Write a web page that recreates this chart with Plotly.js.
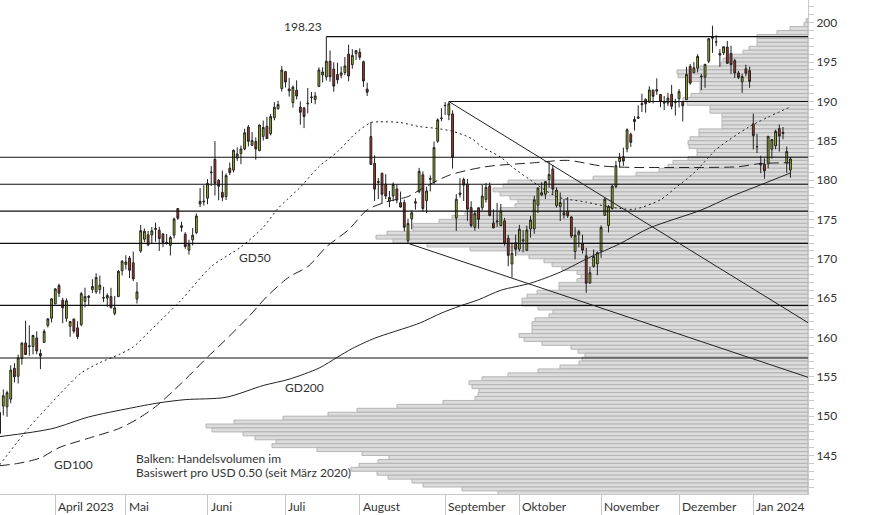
<!DOCTYPE html>
<html><head><meta charset="utf-8">
<script src="https://cdn.plot.ly/plotly-3.0.1.min.js"></script>
<style>html,body{margin:0;padding:0;background:#fff}#chart{width:874px;height:515px}</style>
</head><body><div id="chart"></div>
<script>
// ---- trading days (category axis) ----
const dates = [
'2023-03-13','2023-03-14','2023-03-15','2023-03-16','2023-03-17','2023-03-20','2023-03-21','2023-03-22','2023-03-23','2023-03-24','2023-03-27','2023-03-28','2023-03-29','2023-03-30','2023-03-31',
'2023-04-03','2023-04-04','2023-04-05','2023-04-06','2023-04-10','2023-04-11','2023-04-12','2023-04-13','2023-04-14','2023-04-17','2023-04-18','2023-04-19','2023-04-20','2023-04-21','2023-04-24','2023-04-25','2023-04-26','2023-04-27','2023-04-28',
'2023-05-01','2023-05-02','2023-05-03','2023-05-04','2023-05-05','2023-05-08','2023-05-09','2023-05-10','2023-05-11','2023-05-12','2023-05-15','2023-05-16','2023-05-17','2023-05-18','2023-05-19','2023-05-22','2023-05-23','2023-05-24','2023-05-25','2023-05-26','2023-05-30','2023-05-31',
'2023-06-01','2023-06-02','2023-06-05','2023-06-06','2023-06-07','2023-06-08','2023-06-09','2023-06-12','2023-06-13','2023-06-14','2023-06-15','2023-06-16','2023-06-20','2023-06-21','2023-06-22','2023-06-23','2023-06-26','2023-06-27','2023-06-28','2023-06-29','2023-06-30',
'2023-07-03','2023-07-05','2023-07-06','2023-07-07','2023-07-10','2023-07-11','2023-07-12','2023-07-13','2023-07-14','2023-07-17','2023-07-18','2023-07-19','2023-07-20','2023-07-21','2023-07-24','2023-07-25','2023-07-26','2023-07-27','2023-07-28','2023-07-31',
'2023-08-01','2023-08-02','2023-08-03','2023-08-04','2023-08-07','2023-08-08','2023-08-09','2023-08-10','2023-08-11','2023-08-14','2023-08-15','2023-08-16','2023-08-17','2023-08-18','2023-08-21','2023-08-22','2023-08-23','2023-08-24','2023-08-25','2023-08-28','2023-08-29','2023-08-30','2023-08-31',
'2023-09-01','2023-09-05','2023-09-06','2023-09-07','2023-09-08','2023-09-11','2023-09-12','2023-09-13','2023-09-14','2023-09-15','2023-09-18','2023-09-19','2023-09-20','2023-09-21','2023-09-22','2023-09-25','2023-09-26','2023-09-27','2023-09-28','2023-09-29',
'2023-10-02','2023-10-03','2023-10-04','2023-10-05','2023-10-06','2023-10-09','2023-10-10','2023-10-11','2023-10-12','2023-10-13','2023-10-16','2023-10-17','2023-10-18','2023-10-19','2023-10-20','2023-10-23','2023-10-24','2023-10-25','2023-10-26','2023-10-27','2023-10-30','2023-10-31',
'2023-11-01','2023-11-02','2023-11-03','2023-11-06','2023-11-07','2023-11-08','2023-11-09','2023-11-10','2023-11-13','2023-11-14','2023-11-15','2023-11-16','2023-11-17','2023-11-20','2023-11-21','2023-11-22','2023-11-24','2023-11-27','2023-11-28','2023-11-29','2023-11-30',
'2023-12-01','2023-12-04','2023-12-05','2023-12-06','2023-12-07','2023-12-08','2023-12-11','2023-12-12','2023-12-13','2023-12-14','2023-12-15','2023-12-18','2023-12-19','2023-12-20','2023-12-21','2023-12-22','2023-12-26','2023-12-27','2023-12-28','2023-12-29',
'2024-01-02','2024-01-03','2024-01-04','2024-01-05','2024-01-08','2024-01-09','2024-01-10','2024-01-11','2024-01-12','2024-01-16','2024-01-17'];

const open = [
147.81,151.28,151.19,152.16,156.08,155.07,157.32,159.30,158.83,158.86,159.94,157.97,159.37,161.53,162.44,
164.27,166.60,164.74,162.43,161.42,162.35,161.22,161.63,164.59,165.09,166.10,165.80,166.09,165.05,165.00,165.19,163.06,165.19,168.49,
169.28,170.09,169.50,164.89,170.98,172.48,173.05,173.02,173.85,173.62,173.16,171.99,171.71,173.00,176.39,173.98,173.13,171.09,172.41,173.32,176.96,177.33,
177.70,181.03,182.63,179.97,178.44,177.90,181.50,181.27,182.80,183.37,183.96,186.73,184.41,184.90,183.74,185.55,186.83,185.89,187.93,189.08,191.63,
193.78,191.57,189.84,191.41,189.26,189.16,189.68,190.50,190.23,191.90,193.35,193.10,195.09,194.10,193.41,193.33,193.67,196.02,194.67,196.06,
196.24,195.04,191.57,185.52,182.13,179.69,180.87,179.48,177.32,177.97,178.88,177.13,177.14,172.30,175.07,177.06,178.52,180.67,177.38,180.09,179.70,184.94,187.84,
189.49,188.28,188.40,175.18,178.35,180.07,179.49,176.51,174.00,176.48,176.48,177.52,179.26,174.55,174.67,174.20,174.82,172.62,169.34,172.02,
171.22,172.26,171.09,173.79,173.80,176.81,178.10,178.20,180.07,181.42,176.75,176.65,175.58,176.04,175.31,170.91,173.05,171.88,170.37,166.91,169.02,169.35,
171.00,175.52,174.24,176.38,179.18,182.35,182.96,183.97,185.82,187.70,187.85,189.57,190.25,189.89,191.41,191.49,190.87,189.92,189.78,190.90,189.84,
190.33,189.98,190.21,194.45,193.63,194.20,193.11,193.08,195.09,198.02,197.53,196.09,196.16,196.90,196.10,195.18,193.61,192.49,194.14,193.90,
187.15,184.22,182.15,181.99,182.09,183.92,184.35,186.54,186.06,182.16,181.27];
const high = [
153.14,153.40,153.25,156.46,156.74,157.82,159.40,162.14,161.55,160.34,160.77,158.49,161.05,162.47,165.00,
166.29,166.84,165.05,164.96,162.03,162.36,162.06,165.80,166.32,165.39,167.41,168.16,167.87,166.45,165.60,166.31,165.28,168.56,169.85,
170.45,170.35,170.92,167.04,174.30,173.85,173.54,174.03,174.59,174.06,173.21,173.14,172.93,175.24,176.39,174.71,173.38,172.42,173.90,175.77,178.99,179.35,
180.12,181.78,184.95,180.12,181.21,180.84,182.23,183.89,184.15,184.39,186.52,186.99,186.10,185.41,187.05,187.56,188.05,188.39,189.90,190.07,194.48,
193.88,192.98,192.02,192.67,189.99,189.30,191.70,191.19,191.18,194.32,194.33,198.23,196.47,194.97,194.91,194.44,195.64,197.20,196.63,196.49,
196.73,195.18,192.37,187.38,183.13,180.27,180.93,180.75,178.62,179.69,179.48,178.54,177.51,175.10,176.13,177.68,181.55,181.10,179.15,180.59,184.90,187.85,189.12,
189.92,189.98,188.85,178.21,180.24,180.30,180.13,177.30,176.10,176.50,179.38,179.63,179.70,176.30,177.08,176.97,175.20,173.04,172.03,173.07,
174.30,173.63,174.21,175.45,177.99,179.05,179.72,179.85,182.34,181.93,179.08,178.42,177.58,177.84,175.42,174.01,173.67,173.06,171.38,168.96,171.17,170.90,
174.23,177.78,176.82,179.43,182.44,183.45,184.12,186.57,186.03,188.11,189.50,190.96,190.38,191.91,191.52,192.93,190.90,190.67,191.08,192.09,190.32,
191.56,190.05,194.40,194.76,195.00,195.99,193.49,194.72,198.00,199.62,198.40,196.63,196.95,197.68,197.08,195.41,193.89,193.50,194.66,194.40,
188.44,185.88,183.09,182.76,185.60,185.15,186.40,187.05,186.74,184.26,182.93];
const low = [
147.70,150.10,149.92,151.64,154.28,154.15,156.54,157.81,157.68,157.85,157.87,155.98,159.35,161.27,161.91,
164.22,165.11,161.80,162.00,160.08,160.51,159.78,161.42,163.82,164.03,165.65,165.54,165.56,164.49,163.89,163.73,162.80,165.19,167.88,
168.64,167.54,167.16,164.31,170.76,172.11,171.60,171.90,172.17,171.00,171.47,171.80,170.42,172.58,174.94,173.45,171.28,170.52,171.69,173.11,176.57,176.76,
176.93,179.26,178.04,177.43,177.32,177.46,180.63,180.97,182.44,182.02,183.78,184.27,184.41,182.59,183.67,185.01,185.23,185.67,187.60,188.94,191.26,
191.76,190.62,189.20,190.24,187.04,186.60,188.47,189.78,189.63,191.81,192.42,192.65,192.50,191.23,192.25,192.92,193.32,192.55,194.14,195.26,
195.28,191.85,190.69,181.92,177.35,177.58,177.01,177.60,176.55,177.31,177.05,176.50,173.48,171.96,173.74,176.25,178.33,176.01,175.82,178.55,179.50,184.74,187.48,
188.28,187.61,181.47,173.54,177.79,177.34,174.82,173.98,173.58,173.82,176.17,177.13,175.40,173.86,174.05,174.15,171.66,169.05,167.62,170.34,
170.93,170.82,170.97,172.68,173.18,175.80,177.95,177.60,179.04,178.14,176.51,174.80,175.11,175.19,172.64,169.93,171.45,170.65,165.67,166.83,168.87,167.90,
170.12,175.46,173.35,176.21,178.97,181.59,181.81,183.53,184.21,186.30,187.78,188.65,188.57,189.88,189.74,190.83,189.25,188.90,189.40,188.97,188.19,
189.23,187.45,190.18,192.11,193.59,193.67,191.42,191.72,194.85,196.16,197.00,194.39,195.89,194.83,193.50,192.97,192.83,191.09,193.17,191.73,
183.89,183.43,180.88,180.17,181.50,182.73,183.92,183.62,185.19,180.93,180.30];
const close = [
150.47,152.59,152.99,155.85,155.00,157.40,159.28,157.83,158.93,160.25,158.28,157.65,160.77,162.36,164.90,
166.17,165.63,163.76,164.66,162.03,160.80,160.10,165.56,165.21,165.23,166.47,167.63,166.65,165.02,165.33,163.77,163.76,168.41,169.68,
169.59,168.54,167.45,165.79,173.57,173.50,171.77,173.56,173.75,172.57,172.07,172.07,172.69,175.05,175.16,174.20,171.56,171.84,172.99,175.43,177.30,177.25,
179.58,180.95,179.58,179.21,177.82,180.57,180.96,183.79,183.31,183.95,186.01,184.92,185.01,183.96,187.00,186.68,185.27,188.06,189.25,189.59,193.97,
192.46,191.33,191.81,190.68,188.61,188.08,189.77,190.54,190.69,193.99,193.73,195.10,193.13,191.94,192.75,193.62,194.50,193.22,195.83,196.45,
195.61,192.58,191.17,181.99,178.85,179.80,178.19,177.97,177.79,179.46,177.45,176.57,174.00,174.49,175.84,177.23,181.12,176.38,178.61,180.19,184.12,187.65,187.87,
189.46,189.70,182.91,177.56,178.18,179.36,176.30,174.21,175.74,175.01,177.97,179.07,175.49,173.93,174.79,176.08,171.96,170.43,170.69,171.21,
173.75,172.40,173.66,174.91,177.49,178.99,178.39,179.80,180.71,178.85,178.72,177.15,175.84,175.46,172.88,173.00,173.44,171.10,166.89,168.22,170.29,170.77,
173.97,177.57,176.65,179.23,181.82,182.89,182.41,186.40,184.80,187.44,188.01,189.71,189.69,191.45,190.64,191.31,189.97,189.79,190.40,189.37,189.95,
191.24,189.43,193.42,192.32,194.27,195.71,193.18,194.71,197.96,198.11,197.57,195.89,196.94,194.83,194.68,193.60,193.05,193.15,193.58,192.53,
185.64,184.25,181.91,181.18,185.56,185.14,186.19,185.59,185.92,183.63,182.68];

// ---- moving averages ----
const gd50Dates = ['2023-03-13','2023-03-23','2023-03-31','2023-04-06','2023-04-13','2023-04-20','2023-04-27','2023-05-03','2023-05-09','2023-05-22','2023-06-02','2023-06-14','2023-06-23','2023-06-29','2023-07-10','2023-07-17','2023-07-24','2023-07-31','2023-08-04','2023-08-08','2023-08-16','2023-08-23','2023-08-29','2023-09-06','2023-09-13','2023-09-18','2023-09-25','2023-09-28','2023-10-05','2023-10-16','2023-10-26','2023-11-03','2023-11-08','2023-11-14','2023-11-24','2023-11-30','2023-12-07','2023-12-13','2023-12-15','2023-12-29','2024-01-17'];
const gd50 = [143.8,148.6,151.7,153.7,155.5,156.8,157.8,158.8,160.6,164.8,169.0,171.5,174.0,176.4,179.1,181.7,183.6,186.0,187.3,187.4,187.3,186.8,186.6,186.2,185.3,184.2,182.9,181.7,180.0,177.9,177.2,176.6,176.4,176.3,177.5,179.0,180.9,182.9,183.9,186.8,189.3];

const gd100Dates = ['2023-03-13','2023-03-20','2023-03-28','2023-04-04','2023-04-17','2023-04-27','2023-05-04','2023-05-11','2023-05-22','2023-06-01','2023-06-07','2023-06-16','2023-06-26','2023-07-05','2023-07-12','2023-07-19','2023-07-27','2023-08-03','2023-08-10','2023-08-18','2023-08-23','2023-09-05','2023-09-19','2023-10-06','2023-10-19','2023-11-01','2023-11-14','2023-11-28','2023-12-11','2023-12-26','2024-01-04','2024-01-17'];
const gd100 = [143.7,144.0,144.7,146.0,147.2,148.4,149.6,151.2,154.2,157.5,159.3,162.6,165.2,167.7,169.0,171.5,173.7,176.2,177.2,177.9,178.7,180.6,181.7,182.2,182.5,181.8,181.6,181.6,181.6,181.7,182.1,182.2];

const gd200Dates = ['2023-03-13','2023-03-31','2023-04-17','2023-05-02','2023-05-12','2023-05-23','2023-06-08','2023-06-23','2023-07-05','2023-07-17','2023-07-24','2023-07-28','2023-08-07','2023-08-14','2023-08-23','2023-08-31','2023-09-08','2023-09-15','2023-09-25','2023-10-05','2023-10-17','2023-10-27','2023-11-08','2023-11-20','2023-12-11','2023-12-21','2024-01-04','2024-01-17'];
const gd200 = [147.4,148.4,149.9,151.0,151.7,152.1,152.4,153.9,154.7,156.1,157.5,158.6,159.9,160.7,161.8,163.1,164.0,164.8,166.0,166.9,168.3,170.2,171.9,173.9,176.2,177.9,179.4,180.9];

// ---- volume profile (per USD 0.50), relative volume ----
const profilePrice = [
200.25,199.75,199.25,198.75,198.25,197.75,197.25,196.75,196.25,195.75,
195.25,194.75,194.25,193.75,193.25,192.75,192.25,191.75,191.25,190.75,
190.25,189.75,189.25,188.75,188.25,187.75,187.25,186.75,186.25,185.75,
185.25,184.75,184.25,183.75,183.25,182.75,182.25,181.75,181.25,180.75,
180.25,179.75,179.25,178.75,178.25,177.75,177.25,176.75,176.25,175.75,
175.25,174.75,174.25,173.75,173.25,172.75,172.25,171.75,171.25,170.75,
170.25,169.75,169.25,168.75,168.25,167.75,167.25,166.75,166.25,165.75,
165.25,164.75,164.25,163.75,163.25,162.75,162.25,161.75,161.25,160.75,
160.25,159.75,159.25,158.75,158.25,157.75,157.25,156.75,156.25,155.75,
155.25,154.75,154.25,153.75,153.25,152.75,152.25,151.75,151.25,150.75,
150.25,149.75,149.25,148.75,148.25,147.75,147.25,146.75,146.25,145.75,
145.25,144.75,144.25,143.75,143.25,142.75,142.25,141.75,141.25,140.75,
140.25];
const profileVolume = [
2,4,18,31,51,51,51,59,65,81,
85,87,108,131,130,121,108,108,108,117,
125,121,98,98,86,86,86,86,109,109,
118,120,119,111,111,120,135,140,149,172,
215,300,305,315,308,298,290,293,308,343,
356,369,395,395,421,432,415,381,338,291,
279,264,256,246,231,227,231,249,249,271,
281,286,286,270,255,259,273,276,276,276,
289,284,266,237,230,223,226,229,248,270,
300,326,339,336,329,330,333,365,411,451,
480,525,574,602,596,565,553,532,536,491,
446,419,430,449,457,431,420,396,385,346,
310];

// ---- horizontal levels and trend lines ----
const levelPrices = [182.9, 179.47, 176.05, 171.96, 164.09, 157.39];
const resistanceDates = ['2023-07-19', '2023-09-05'];
const resistancePrices = [198.23, 189.98];
const trendStartDates = ['2023-09-05', '2023-08-18'];
const trendStartPrices = [189.98, 171.96];
const trendEndPrices = [161.88, 154.94];

// ---- axis labels ----
const monthStarts = ['2023-04-03','2023-05-01','2023-06-01','2023-07-03','2023-08-01','2023-09-01','2023-10-02','2023-11-01','2023-12-01','2024-01-02'];
const monthLabels = ['April 2023','Mai','Juni','Juli','August','September','Oktober','November','Dezember','Jan 2024'];

const xRange = [0.11, 217.73];
const yRange = [140.11, 202.88];
const FONT = 'Lato, "Noto Sans", sans-serif';
const INK = '#222';

const traces = [
  { type:'bar', orientation:'h', x: profileVolume, y: profilePrice, width: 0.5,
    xaxis:'x', yaxis:'y', hoverinfo:'skip',
    marker:{ color:'#dcdcdc', line:{ color:'#b4b4b4', width:1 } } },
  { type:'candlestick', x: dates, open: open, high: high, low: low, close: close,
    xaxis:'x2', yaxis:'y', hoverinfo:'skip',
    increasing:{ line:{ color:INK, width:1 }, fillcolor:'#9dbf1c' },
    decreasing:{ line:{ color:INK, width:1 }, fillcolor:'#b5351f' } },
  { type:'scatter', mode:'lines', x: gd200Dates, y: gd200, xaxis:'x2', yaxis:'y',
    line:{ color:INK, width:1, shape:'spline', smoothing:0.8 }, hoverinfo:'skip' },
  { type:'scatter', mode:'lines', x: gd100Dates, y: gd100, xaxis:'x2', yaxis:'y',
    line:{ color:INK, width:1, dash:'10px,5px', shape:'spline', smoothing:0.8 }, hoverinfo:'skip' },
  { type:'scatter', mode:'lines', x: gd50Dates, y: gd50, xaxis:'x2', yaxis:'y',
    line:{ color:INK, width:1, dash:'2px,3px', shape:'spline', smoothing:0.8 }, hoverinfo:'skip' }
];

const shapes = [];
levelPrices.forEach(p => shapes.push({ type:'line', xref:'paper', yref:'y', x0:0, x1:1, y0:p, y1:p,
  line:{ color:'#111', width:1.2 }, layer:'above' }));
resistanceDates.forEach((d,i) => shapes.push({ type:'line', xref:'x2', yref:'y',
  x0: dates.indexOf(d), x1: xRange[1], y0: resistancePrices[i], y1: resistancePrices[i],
  line:{ color:'#111', width:1.2 }, layer:'above' }));
trendStartDates.forEach((d,i) => shapes.push({ type:'line', xref:'x2', yref:'y',
  x0: dates.indexOf(d), x1: xRange[1], y0: trendStartPrices[i], y1: trendEndPrices[i],
  line:{ color:'#222', width:1 }, layer:'above' }));

const annotations = [];
monthStarts.forEach((d,i) => annotations.push({ xref:'x2', yref:'paper', x: dates.indexOf(d), y: 0,
  xanchor:'left', yanchor:'top', xshift:1, yshift:-3, showarrow:false, text: monthLabels[i],
  font:{ family:FONT, size:12, color:'#333' } }));
const txt = (d, y, text, xa, ya, xs, ys) => ({ xref:'x2', yref:'y', x: dates.indexOf(d), y, text, showarrow:false,
  xanchor:xa, yanchor:ya, xshift:xs||0, yshift:ys||0, align:'left', font:{ family:FONT, size:12, color:'#333' } });
annotations.push(txt('2023-07-19', 198.23, '198.23', 'right', 'bottom', -2, 1));
annotations.push(txt('2023-06-13', 170.1, 'GD50', 'left', 'middle', 0, 0));
annotations.push(txt('2023-06-30', 153.58, 'GD200', 'left', 'middle', 1, 0));
annotations.push(txt('2023-03-31', 143.86, 'GD100', 'left', 'middle', 0, 0));
annotations.push(txt('2023-05-03', 144.62, 'Balken: Handelsvolumen im', 'left', 'middle', 1, 0));
annotations.push(txt('2023-05-03', 142.85, 'Basiswert pro USD 0.50 (seit März 2020)', 'left', 'middle', 1, 0));

const layout = {
  width: 874, height: 515,
  margin: { l:0, r:66, t:0, b:21, pad:0 },
  paper_bgcolor:'#fff', plot_bgcolor:'#fff',
  showlegend:false, bargap:0,
  font:{ family:FONT, size:12, color:'#333' },
  xaxis: { range:[808, 0], showgrid:false, zeroline:false, showticklabels:false, ticks:'', showline:false, fixedrange:true },
  xaxis2: { overlaying:'x', anchor:'y', side:'bottom', type:'category', range:xRange,
    categoryorder:'array', categoryarray: dates,
    tickmode:'array', tickvals: monthStarts, showticklabels:false,
    ticks:'outside', ticklen:21, tickcolor:'#c8c8c8', tickwidth:1,
    showline:true, linecolor:'#c8c8c8', linewidth:1, showgrid:false, zeroline:false,
    rangeslider:{ visible:false } },
  yaxis: { side:'right', range:yRange, dtick:5, tick0:0, ticks:'outside', ticklen:5, tickcolor:'#c8c8c8',
    showline:true, linecolor:'#c8c8c8', linewidth:1, showgrid:false, zeroline:false,
    tickfont:{ family:FONT, size:12, color:'#333' },
    minor:{ dtick:1, ticks:'outside', ticklen:5, tickcolor:'#c8c8c8', showgrid:false } },
  shapes, annotations
};

Plotly.newPlot('chart', traces, layout, { staticPlot:true, displayModeBar:false });
</script>
</body></html>
